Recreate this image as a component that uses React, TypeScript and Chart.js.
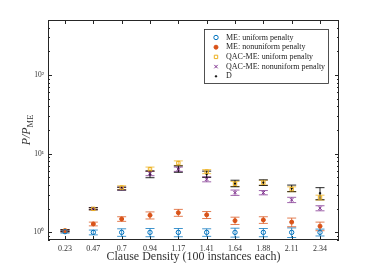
import { useEffect, useRef } from 'react';
import { Chart, registerables } from 'chart.js';
import { drawPoint } from 'chart.js/helpers';
Chart.register(...registerables);

const categories = ['0.23', '0.47', '0.7', '0.94', '1.17', '1.41', '1.64', '1.88', '2.11', '2.34'];
const seriesNames = [
  'ME: uniform penalty',
  'ME: nonuniform penalty',
  'QAC-ME: uniform penalty',
  'QAC-ME: nonuniform penalty',
  'D',
];
const meUniform = [1.02, 1.0, 1.0, 1.0, 1.0, 1.0, 1.0, 1.0, 1.0, 1.0];
const meUniformErr = [0.04, 0.07, 0.11, 0.12, 0.12, 0.11, 0.13, 0.12, 0.14, 0.1];
const meNonuniform = [1.05, 1.28, 1.48, 1.65, 1.78, 1.67, 1.41, 1.44, 1.35, 1.2];
const meNonuniformErr = [0.03, 0.07, 0.1, 0.17, 0.18, 0.17, 0.15, 0.14, 0.17, 0.15];
const qacUniform = [1.05, 1.99, 3.71, 6.36, 7.6, 5.92, 4.14, 4.29, 3.54, 2.77];
const qacUniformErr = [0.03, 0.06, 0.2, 0.4, 0.5, 0.35, 0.3, 0.3, 0.25, 0.2];
const qacNonuniform = [1.05, 2.0, 3.6, 5.6, 6.36, 4.74, 3.2, 3.2, 2.59, 2.03];
const qacNonuniformErr = [0.03, 0.06, 0.15, 0.35, 0.4, 0.35, 0.25, 0.2, 0.2, 0.15];
const dValues = [1.05, 2.0, 3.6, 5.5, 6.4, 5.5, 4.2, 4.3, 3.64, 3.15];
const dErr = [0.03, 0.06, 0.15, 0.55, 0.6, 0.5, 0.4, 0.35, 0.35, 0.55];
const yMajorTicks = [1, 10, 100];
const yTickLabels = ['10⁰', '10¹', '10²'];

const SERIF = "'Liberation Serif', 'Times New Roman', serif";
const AXIS = '#262626';

const framePlugin = {
  id: 'frame',
  beforeDatasetsDraw(chart: any) {
    const { ctx, chartArea: a, scales } = chart;
    ctx.save();
    ctx.strokeStyle = AXIS;
    ctx.lineWidth = 1;
    ctx.strokeRect(a.left + 0.5, a.top + 0.5, a.right - a.left - 1, a.bottom - a.top - 1);
    ctx.beginPath();
    const ys = scales.y;
    for (let p = 0.1; p <= 1000; p *= 10) {
      for (let m = 1; m <= 9; m++) {
        const v = m * p;
        if (v < ys.min || v > ys.max) continue;
        const y = Math.round(ys.getPixelForValue(v)) + 0.5;
        const len = m === 1 ? 4 : 2;
        ctx.moveTo(a.left, y); ctx.lineTo(a.left + len, y);
        ctx.moveTo(a.right, y); ctx.lineTo(a.right - len, y);
      }
    }
    const xs = scales.x;
    categories.forEach((_, i) => {
      const x = Math.round(xs.getPixelForValue(i)) + 0.5;
      ctx.moveTo(x, a.bottom); ctx.lineTo(x, a.bottom - 4);
      ctx.moveTo(x, a.top); ctx.lineTo(x, a.top + 4);
    });
    ctx.stroke();
    ctx.restore();
  },
};

const errPlugin = {
  id: 'errbars',
  beforeDatasetsDraw(chart: any) {
    const { ctx, chartArea: a, scales } = chart;
    ctx.save();
    ctx.beginPath();
    ctx.rect(a.left, a.top, a.right - a.left, a.bottom - a.top);
    ctx.clip();
    chart.data.datasets.forEach((ds: any, i: number) => {
      const meta = chart.getDatasetMeta(i);
      ctx.strokeStyle = ds.errColor;
      ctx.lineWidth = 1;
      ds.data.forEach((pt: any, j: number) => {
        const e = ds.err[j];
        const x = meta.data[j].x;
        const yh = scales.y.getPixelForValue(pt.y + e);
        const yl = scales.y.getPixelForValue(pt.y - e);
        ctx.beginPath();
        ctx.moveTo(x, yh); ctx.lineTo(x, yl);
        ctx.moveTo(x - 4.5, yh); ctx.lineTo(x + 4.5, yh);
        ctx.moveTo(x - 4.5, yl); ctx.lineTo(x + 4.5, yl);
        ctx.stroke();
      });
    });
    ctx.restore();
  },
};

const legendPlugin = {
  id: 'boxLegend',
  afterDatasetsDraw(chart: any) {
    const { ctx } = chart;
    const left = 204, top = 29, w = 124, h = 54;
    ctx.save();
    ctx.fillStyle = '#ffffff';
    ctx.fillRect(left, top, w, h);
    ctx.strokeStyle = AXIS;
    ctx.lineWidth = 0.8;
    ctx.strokeRect(left + 0.5, top + 0.5, w, h);
    ctx.font = `8px ${SERIF}`;
    ctx.textBaseline = 'middle';
    ctx.textAlign = 'left';
    chart.data.datasets.forEach((ds: any, i: number) => {
      const y = top + 8.5 + i * 9.7;
      ctx.fillStyle = ds.backgroundColor;
      ctx.strokeStyle = ds.borderColor;
      ctx.lineWidth = ds.pointBorderWidth;
      drawPoint(ctx, { pointStyle: ds.pointStyle, radius: ds.pointRadius, borderWidth: ds.pointBorderWidth, rotation: 0 }, 216, y);
      ctx.fillStyle = '#222';
      ctx.fillText(ds.label, 226, y);
    });
    ctx.restore();
  },
};

const yTitlePlugin = {
  id: 'yTitle',
  afterDraw(chart: any) {
    const { ctx, chartArea: a } = chart;
    ctx.save();
    ctx.translate(26, (a.top + a.bottom) / 2);
    ctx.rotate(-Math.PI / 2);
    ctx.fillStyle = '#333';
    ctx.textBaseline = 'alphabetic';
    ctx.font = `italic 12px ${SERIF}`;
    const main = 'P/P';
    ctx.font = `italic 12px ${SERIF}`;
    const w1 = ctx.measureText(main).width;
    ctx.font = `8.5px ${SERIF}`;
    const w2 = ctx.measureText('ME').width;
    const start = -(w1 + w2) / 2;
    ctx.font = `italic 12px ${SERIF}`;
    ctx.fillText(main, start, 4);
    ctx.font = `8.5px ${SERIF}`;
    ctx.fillText('ME', start + w1, 6.5);
    ctx.restore();
  },
};

export default function App() {
  const ref = useRef<HTMLCanvasElement>(null);
  useEffect(() => {
    const mk = (vals: number[]) => vals.map((y, i) => ({ x: i, y }));
    const datasets: any[] = [
      { label: seriesNames[0], data: mk(meUniform), err: meUniformErr, borderColor: '#0072BD', backgroundColor: 'rgba(0,0,0,0)', errColor: 'rgba(0,114,189,0.75)', pointStyle: 'circle', pointRadius: 2.2, pointBorderWidth: 1 },
      { label: seriesNames[1], data: mk(meNonuniform), err: meNonuniformErr, borderColor: '#D95319', backgroundColor: '#D95319', errColor: 'rgba(217,83,25,0.75)', pointStyle: 'circle', pointRadius: 2, pointBorderWidth: 1 },
      { label: seriesNames[2], data: mk(qacUniform), err: qacUniformErr, borderColor: '#EDB120', backgroundColor: 'rgba(0,0,0,0)', errColor: 'rgba(237,177,32,0.75)', pointStyle: 'rect', pointRadius: 2.4, pointBorderWidth: 1 },
      { label: seriesNames[3], data: mk(qacNonuniform), err: qacNonuniformErr, borderColor: '#7E2F8E', backgroundColor: '#7E2F8E', errColor: 'rgba(126,47,142,0.75)', pointStyle: 'crossRot', pointRadius: 2.4, pointBorderWidth: 1 },
      { label: seriesNames[4], data: mk(dValues), err: dErr, borderColor: '#000000', backgroundColor: '#000000', errColor: 'rgba(0,0,0,0.85)', pointStyle: 'circle', pointRadius: 0.9, pointBorderWidth: 0.5 },
    ];
    datasets.forEach((d) => { d.showLine = false; d.pointHoverRadius = d.pointRadius; });
    const chart = new Chart(ref.current as HTMLCanvasElement, {
      type: 'scatter',
      data: { datasets },
      options: {
        animation: false,
        responsive: true,
        maintainAspectRatio: false,
        layout: { padding: { top: 20, right: 35, left: 0, bottom: 0 } },
        plugins: { legend: { display: false }, tooltip: { enabled: false } },
        scales: {
          x: {
            type: 'linear',
            min: -0.6,
            max: 9.67,
            grid: { display: false, drawTicks: false, tickLength: 0 },
            border: { display: false },
            afterBuildTicks: (s: any) => { s.ticks = categories.map((_, i) => ({ value: i })); },
            afterFit: (s: any) => { s.height = 30; },
            ticks: {
              autoSkip: false,
              maxRotation: 0,
              padding: 4,
              color: '#333',
              font: { family: SERIF, size: 8 },
              callback: (v: any) => categories[v as number] ?? '',
            },
            title: {
              display: true,
              text: 'Clause Density (100 instances each)',
              color: '#333',
              font: { family: SERIF, size: 12 },
              padding: { top: 0, bottom: 6 },
            },
          },
          y: {
            type: 'logarithmic',
            min: 0.8,
            max: 500,
            grid: { display: false, drawTicks: false, tickLength: 0 },
            border: { display: false },
            afterBuildTicks: (s: any) => { s.ticks = yMajorTicks.map((v) => ({ value: v })); },
            afterFit: (s: any) => { s.width = 48; },
            ticks: {
              autoSkip: false,
              padding: 4,
              color: '#333',
              font: { family: SERIF, size: 7.5 },
              callback: (v: any) => {
                const k = yMajorTicks.indexOf(Number(v));
                return k >= 0 ? yTickLabels[k] : '';
              },
            },
          },
        },
      },
      plugins: [framePlugin, errPlugin, legendPlugin, yTitlePlugin],
    });
    return () => chart.destroy();
  }, []);
  return (
    <div style={{ position: 'fixed', left: 0, top: 0, width: 374, height: 270, background: '#fff' }}>
      <canvas ref={ref} />
    </div>
  );
}
